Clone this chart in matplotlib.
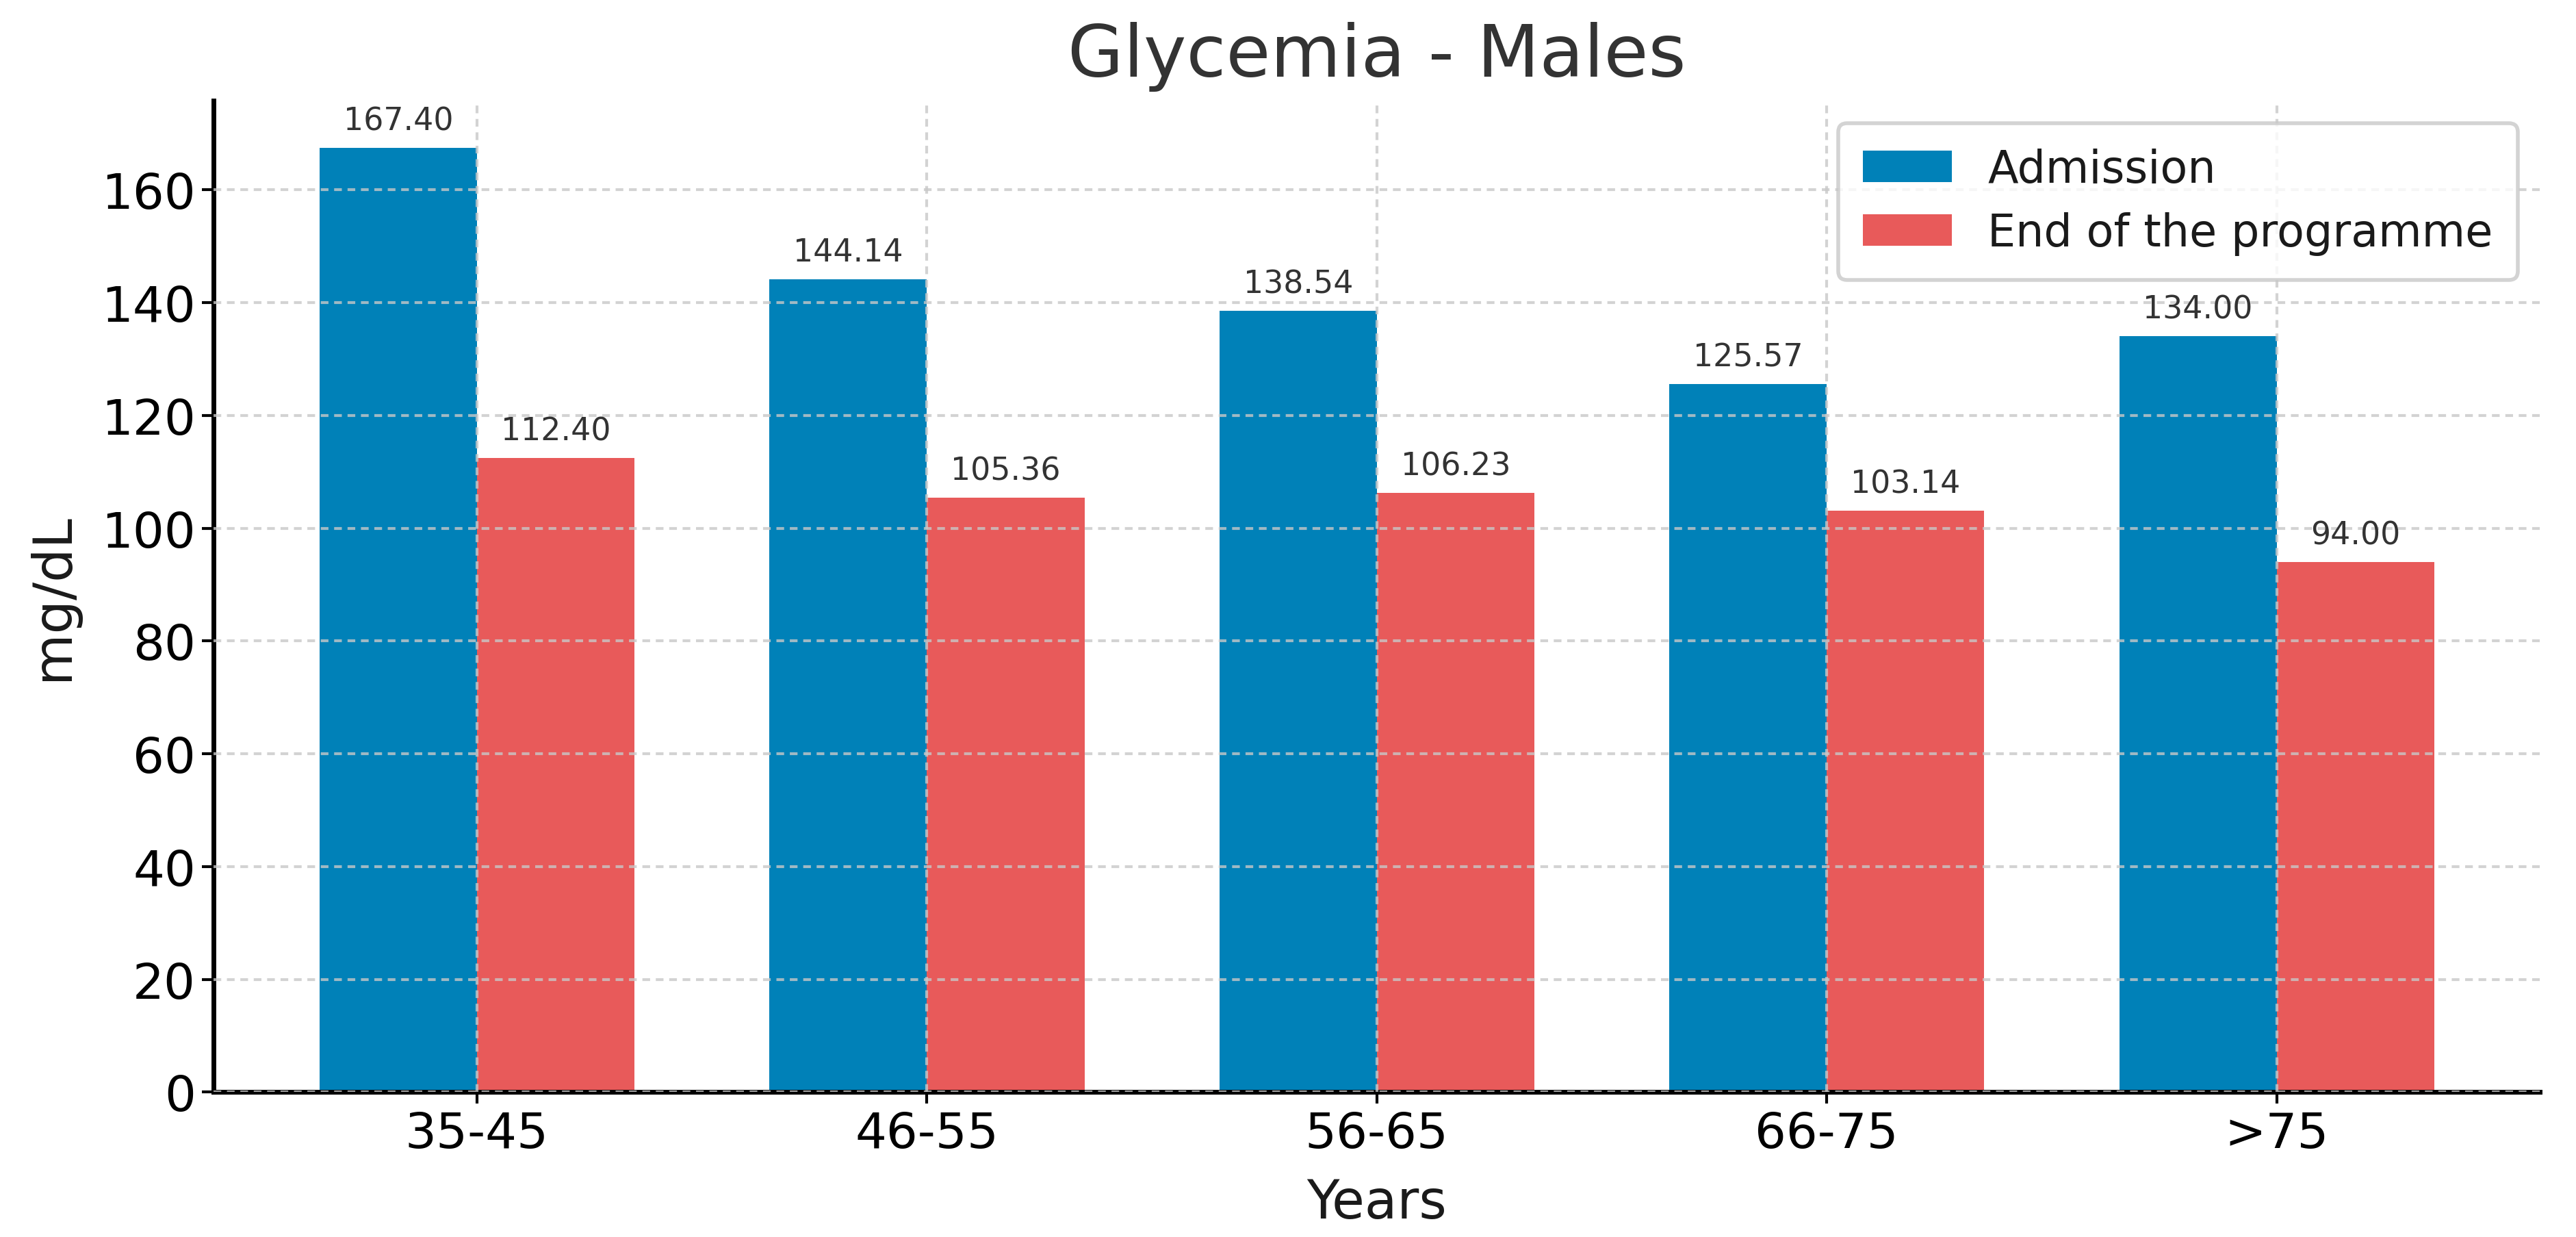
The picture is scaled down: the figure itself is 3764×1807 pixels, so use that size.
import matplotlib
matplotlib.use("Agg")
import matplotlib.pyplot as plt
import numpy as np

categories = ["35-45", "46-55", "56-65", "66-75", ">75"]
admission = [167.40, 144.14, 138.54, 125.57, 134.00]
end_programme = [112.40, 105.36, 106.23, 103.14, 94.00]
series_labels = ["Admission", "End of the programme"]
title = "Glycemia - Males"
xlabel = "Years"
ylabel = "mg/dL"

blue = "#0081B8"
red = "#E85A5A"
text_col = "#333333"

plt.rcParams['font.family'] = ['DejaVu Sans']
fig = plt.figure(figsize=(18.82, 9.04), dpi=200)
ax = fig.add_axes([0.083, 0.117, 0.903, 0.801])

x = np.arange(len(categories))
w = 0.35
b1 = ax.bar(x - w/2, admission, w, color=blue, label=series_labels[0], zorder=1)
b2 = ax.bar(x + w/2, end_programme, w, color=red, label=series_labels[1], zorder=1)

for bars in (b1, b2):
    for r in bars:
        h = r.get_height()
        ax.annotate(f"{h:.2f}", (r.get_x() + r.get_width()/2, h), xytext=(0, 6),
                    textcoords="offset points", ha="center", va="bottom",
                    fontsize=16.5, color=text_col)

ax.set_xticks(x)
ax.set_xticklabels(categories)
ax.tick_params(axis='both', labelsize=26, colors='black', length=6, width=1.5)
ax.set_xlabel(xlabel, fontsize=28, color="#1a1a1a", labelpad=10)
ax.set_ylabel(ylabel, fontsize=28, color="#1a1a1a", labelpad=12)
ax.set_title(title, fontsize=38, color=text_col, pad=13)

ax.grid(True, linestyle=(0, (2.7, 2)), color="#c8c8c8", linewidth=1.5, alpha=0.8, zorder=2)
ax.set_axisbelow(False)
for s in ("top", "right"):
    ax.spines[s].set_visible(False)
for s in ("left", "bottom"):
    ax.spines[s].set_linewidth(2.5)

leg = ax.legend(loc="upper right", fontsize=23.5, frameon=True, fancybox=True,
                shadow=False, borderpad=0.55, handlelength=2.0, handleheight=0.7,
                labelspacing=0.45, borderaxespad=0.5)
leg.get_frame().set_edgecolor("#c8c8c8")
leg.get_frame().set_linewidth(2)
for t in leg.get_texts():
    t.set_color("#1a1a1a")

fig.savefig("out.png", dpi=200)
